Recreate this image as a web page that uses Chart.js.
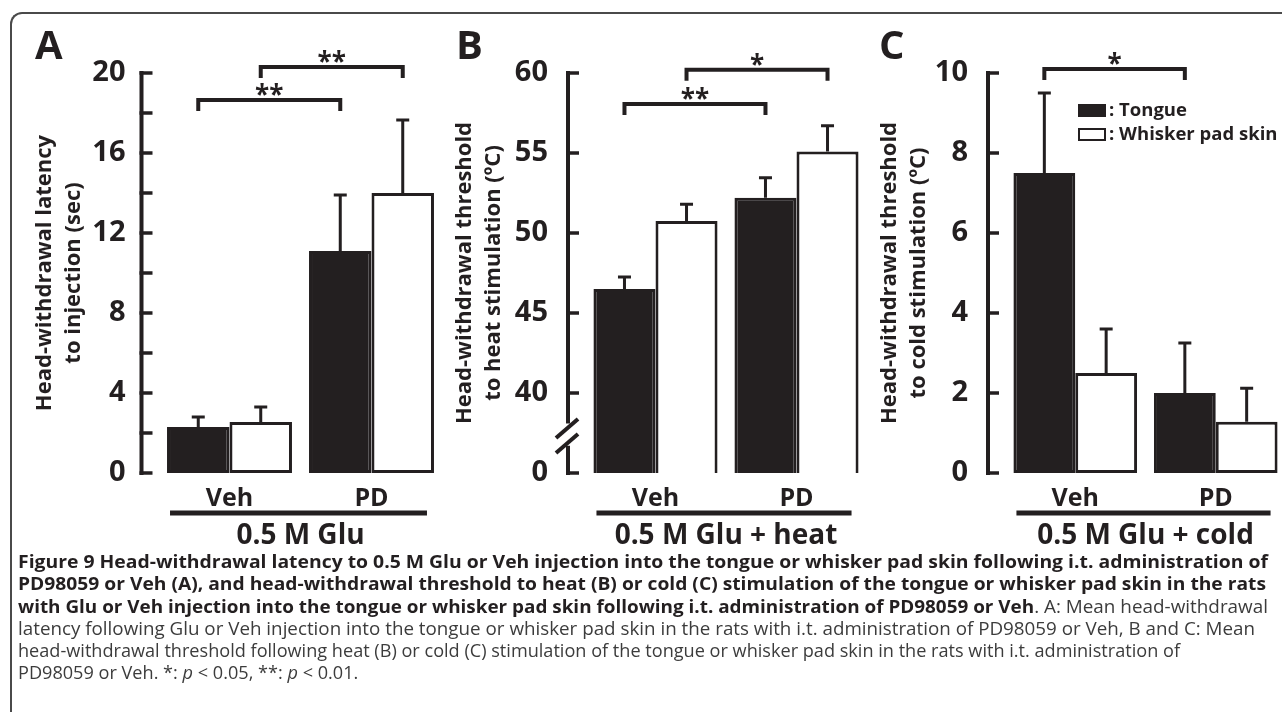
<!DOCTYPE html>
<html>
<head>
<meta charset="utf-8">
<script src="https://cdn.jsdelivr.net/npm/chart.js@4.4.1/dist/chart.umd.min.js"></script>
<style>
  html, body { margin: 0; padding: 0; background: #fff; }
  #page { position: relative; width: 1282px; height: 715px; overflow: hidden; }
  #frame { position: absolute; left: 10px; top: 12px; width: 1400px; height: 698px;
           border-left: 2px solid #4a4a4a; border-top: 2px solid #4a4a4a; border-top-left-radius: 12px; }
  canvas { position: absolute; top: 0; }
  #caption { position: absolute; left: 18px; top: 550px; font-family: 'Open Sans', sans-serif;
             font-size: 18px; line-height: 22.3px; color: #3c3c3c; }
  #caption .ln { white-space: nowrap; height: 22.3px; }
  #caption .ln span { display: inline-block; transform-origin: 0 0; }
  #caption b { color: #231f20; }
</style>
</head>
<body>
<div id="page">
  <div id="frame"></div>
  <canvas id="chartA" width="445" height="560" style="left:0px"></canvas>
  <canvas id="chartB" width="450" height="560" style="left:420px"></canvas>
  <canvas id="chartC" width="450" height="560" style="left:840px"></canvas>
  <div id="caption">
    <div class="ln" data-w="1250"><span><b>Figure 9 Head-withdrawal latency to 0.5 M Glu or Veh injection into the tongue or whisker pad skin following i.t. administration of</b></span></div>
    <div class="ln" data-w="1248"><span><b>PD98059 or Veh (A), and head-withdrawal threshold to heat (B) or cold (C) stimulation of the tongue or whisker pad skin in the rats</b></span></div>
    <div class="ln" data-w="1250"><span><b>with Glu or Veh injection into the tongue or whisker pad skin following i.t. administration of PD98059 or Veh</b>. A: Mean head-withdrawal</span></div>
    <div class="ln" data-w="1237"><span>latency following Glu or Veh injection into the tongue or whisker pad skin in the rats with i.t. administration of PD98059 or Veh, B and C: Mean</span></div>
    <div class="ln" data-w="1162"><span>head-withdrawal threshold following heat (B) or cold (C) stimulation of the tongue or whisker pad skin in the rats with i.t. administration of</span></div>
    <div class="ln"><span>PD98059 or Veh. *: <i>p</i> &lt; 0.05, **: <i>p</i> &lt; 0.01.</span></div>
  </div>
</div>
<script>
// categories and series
const groups = ['Veh', 'PD'];
const seriesNames = ['Tongue', 'Whisker pad skin'];

// A: head-withdrawal latency (sec), mean and SEM
const latencyTongue = [2.3, 11.1];
const latencyTongueErr = [0.5, 2.8];
const latencyWhisker = [2.55, 14.0];
const latencyWhiskerErr = [0.75, 3.65];

// B: threshold to heat (ºC)
const heatTongue = [46.5, 52.2];
const heatTongueErr = [0.75, 1.25];
const heatWhisker = [50.75, 55.1];
const heatWhiskerErr = [1.05, 1.6];

// C: threshold to cold (ºC)
const coldTongue = [7.5, 2.0];
const coldTongueErr = [2.0, 1.25];
const coldWhisker = [2.5, 1.28];
const coldWhiskerErr = [1.1, 0.84];

// y axis ranges / tick steps
const ticksA = { min: 0, max: 20, step: 2, labelEvery: 4 };
const ticksB = { min: 35, max: 60, step: 5, breakLabel: '0' };   // axis broken below 40
const ticksC = { min: 0, max: 10, step: 2 };

// significance brackets: [dataset, category] to [dataset, category], height in data units
const bracketsA = [
  { from: [0, 0], to: [0, 1], y: 18.65, label: '**' },
  { from: [1, 0], to: [1, 1], y: 20.3, label: '**' }
];
const bracketsB = [
  { from: [0, 0], to: [0, 1], y: 58.06, label: '**' },
  { from: [1, 0], to: [1, 1], y: 60.2, label: '*' }
];
const bracketsC = [
  { from: [0, 0], to: [0, 1], y: 10.1, label: '*' }
];

const FONT = "'Open Sans', sans-serif";
const INK = '#231f20';

function decor(cfg) {
  return {
    id: 'decor',
    afterDraw(chart) {
      const { ctx, chartArea } = chart;
      const y = chart.scales.y;
      const ax = chartArea.left - 17;
      ctx.save();
      ctx.strokeStyle = INK;
      ctx.fillStyle = INK;
      ctx.lineCap = 'butt';

      // y axis line (with optional break)
      ctx.lineWidth = 4;
      const top = y.getPixelForValue(y.max), bot = y.getPixelForValue(y.min);
      ctx.beginPath();
      if (cfg.breakAt) {
        const g1 = y.getPixelForValue(cfg.breakAt[0]), g2 = y.getPixelForValue(cfg.breakAt[1]);
        ctx.moveTo(ax, top - 2); ctx.lineTo(ax, g1);
        ctx.moveTo(ax, g2); ctx.lineTo(ax, bot + 2);
        ctx.stroke();
        const mid = (g1 + g2) / 2;
        [mid - 6, mid + 9].forEach(c => {
          ctx.beginPath();
          ctx.moveTo(ax - 12, c + 9.5);
          ctx.lineTo(ax + 10, c - 9.5);
          ctx.stroke();
        });
      } else {
        ctx.moveTo(ax, top - 2); ctx.lineTo(ax, bot + 2);
        ctx.stroke();
      }
      // tick marks pointing inward
      ctx.lineWidth = 3.5;
      y.ticks.forEach(t => {
        const py = y.getPixelForValue(t.value);
        ctx.beginPath();
        ctx.moveTo(ax - 2, py); ctx.lineTo(ax + 11, py);
        ctx.stroke();
      });

      // error bars (upper half only)
      ctx.lineWidth = 3;
      chart.data.datasets.forEach((ds, i) => {
        chart.getDatasetMeta(i).data.forEach((bar, j) => {
          const yt = y.getPixelForValue(ds.data[j] + ds.err[j]);
          ctx.beginPath();
          ctx.moveTo(bar.x, bar.y); ctx.lineTo(bar.x, yt);
          ctx.moveTo(bar.x - 6.5, yt); ctx.lineTo(bar.x + 6.5, yt);
          ctx.stroke();
        });
      });

      // group underline
      const m0 = chart.getDatasetMeta(0).data[0];
      const m1 = chart.getDatasetMeta(chart.data.datasets.length - 1).data[groups.length - 1];
      ctx.lineWidth = 5;
      ctx.beginPath();
      ctx.moveTo(m0.x - m0.width / 2 + 3, 513);
      ctx.lineTo(m1.x + m1.width / 2 - 7, 513);
      ctx.stroke();

      // significance brackets
      cfg.brackets.forEach(b => {
        const xa = chart.getDatasetMeta(b.from[0]).data[b.from[1]].x;
        const xb = chart.getDatasetMeta(b.to[0]).data[b.to[1]].x;
        const py = y.getPixelForValue(b.y);
        ctx.lineWidth = 4;
        ctx.beginPath();
        ctx.moveTo(xa, py + 11); ctx.lineTo(xa, py); ctx.lineTo(xb, py); ctx.lineTo(xb, py + 11);
        ctx.stroke();
        ctx.font = 'bold 26px ' + FONT;
        ctx.textAlign = 'center';
        ctx.textBaseline = 'alphabetic';
        ctx.fillText(b.label, (xa + xb) / 2, py + 4);
      });

      // legend
      if (cfg.legend) {
        ctx.font = 'bold 18.5px ' + FONT;
        ctx.textAlign = 'left';
        ctx.textBaseline = 'middle';
        chart.data.datasets.forEach((ds, i) => {
          const lx = chartArea.left + 73, ly = 104 + i * 24;
          ctx.fillStyle = ds.backgroundColor;
          ctx.fillRect(lx, ly, 28, 13);
          ctx.lineWidth = 2;
          ctx.strokeStyle = INK;
          ctx.strokeRect(lx + 1, ly + 1, 26, 11);
          ctx.fillStyle = INK;
          ctx.fillText(': ' + ds.label, lx + 31, ly + 7);
        });
      }

      // panel letter
      ctx.fillStyle = INK;
      ctx.font = 'bold 40px ' + FONT;
      ctx.textAlign = 'left';
      ctx.textBaseline = 'alphabetic';
      ctx.fillText(cfg.letter, cfg.letterX, 59);
      ctx.restore();
    }
  };
}

function makePanel(id, cfg) {
  const t = cfg.ticks;
  new Chart(document.getElementById(id), {
    type: 'bar',
    data: {
      labels: groups,
      datasets: [
        { label: seriesNames[0], data: cfg.tongue, err: cfg.tongueErr,
          backgroundColor: INK, borderColor: INK, borderWidth: 3, borderSkipped: false },
        { label: seriesNames[1], data: cfg.whisker, err: cfg.whiskerErr,
          backgroundColor: '#ffffff', borderColor: INK, borderWidth: 3, borderSkipped: false }
      ]
    },
    options: {
      responsive: false,
      animation: false,
      events: [],
      layout: { padding: { left: 0, top: 73, right: cfg.padRight, bottom: 0 } },
      datasets: { bar: { categoryPercentage: 0.88, barPercentage: 1 } },
      plugins: { legend: { display: false }, tooltip: { enabled: false } },
      scales: {
        x: {
          grid: { display: false, drawTicks: false, tickLength: 0 },
          border: { display: false },
          ticks: { color: INK, padding: 11, font: { family: FONT, weight: 'bold', size: 25 } },
          title: { display: true, text: cfg.group, color: INK, padding: { top: 0, bottom: 7 },
                   font: { family: FONT, weight: 'bold', size: 28 } },
          afterFit: s => { s.height = 87; }
        },
        y: {
          min: t.min, max: t.max,
          grid: { display: false, drawTicks: false, tickLength: 0 },
          border: { display: false },
          ticks: {
            stepSize: t.step, autoSkip: false, color: INK, padding: cfg.tickPad,
            font: { family: FONT, weight: 'bold', size: 29 },
            callback: v => {
              if (t.breakLabel && v === t.min) return t.breakLabel;
              if (t.labelEvery && v % t.labelEvery !== 0) return '';
              return String(v);
            }
          },
          title: { display: true, text: cfg.yTitle, color: INK, padding: { top: cfg.titlePad, bottom: 0 },
                   font: { family: FONT, weight: 'bold', size: 22, lineHeight: 1.28 } },
          afterFit: s => { s.width = cfg.yWidth; }
        }
      }
    },
    plugins: [decor(cfg)]
  });
}

makePanel('chartA', {
  tongue: latencyTongue, tongueErr: latencyTongueErr, whisker: latencyWhisker, whiskerErr: latencyWhiskerErr,
  ticks: ticksA, brackets: bracketsA, group: '0.5 M Glu',
  yTitle: ['Head-withdrawal latency', 'to injection (sec)'],
  yWidth: 158.5, padRight: 2.5, tickPad: 33, titlePad: 31, letter: 'A', letterX: 35
});
makePanel('chartB', {
  tongue: heatTongue, tongueErr: heatTongueErr, whisker: heatWhisker, whiskerErr: heatWhiskerErr,
  ticks: ticksB, brackets: bracketsB, group: '0.5 M Glu + heat', breakAt: [38.1, 36.7],
  yTitle: ['Head-withdrawal threshold', 'to heat stimulation (ºC)'],
  yWidth: 165, padRight: 3, tickPad: 37, titlePad: 31, letter: 'B', letterX: 36
});
makePanel('chartC', {
  tongue: coldTongue, tongueErr: coldTongueErr, whisker: coldWhisker, whiskerErr: coldWhiskerErr,
  ticks: ticksC, brackets: bracketsC, group: '0.5 M Glu + cold', legend: true,
  yTitle: ['Head-withdrawal threshold', 'to cold stimulation (ºC)'],
  yWidth: 165, padRight: 4, tickPad: 37, titlePad: 36, letter: 'C', letterX: 39
});

// fit caption lines to the printed line widths; the last line keeps the previous line's scale
let lastScale = 1;
document.querySelectorAll('#caption .ln').forEach(ln => {
  const span = ln.querySelector('span');
  const w = span.getBoundingClientRect().width;
  if (ln.dataset.w) lastScale = Number(ln.dataset.w) / w;
  span.style.transform = 'scaleX(' + lastScale + ')';
});
</script>
</body>
</html>
